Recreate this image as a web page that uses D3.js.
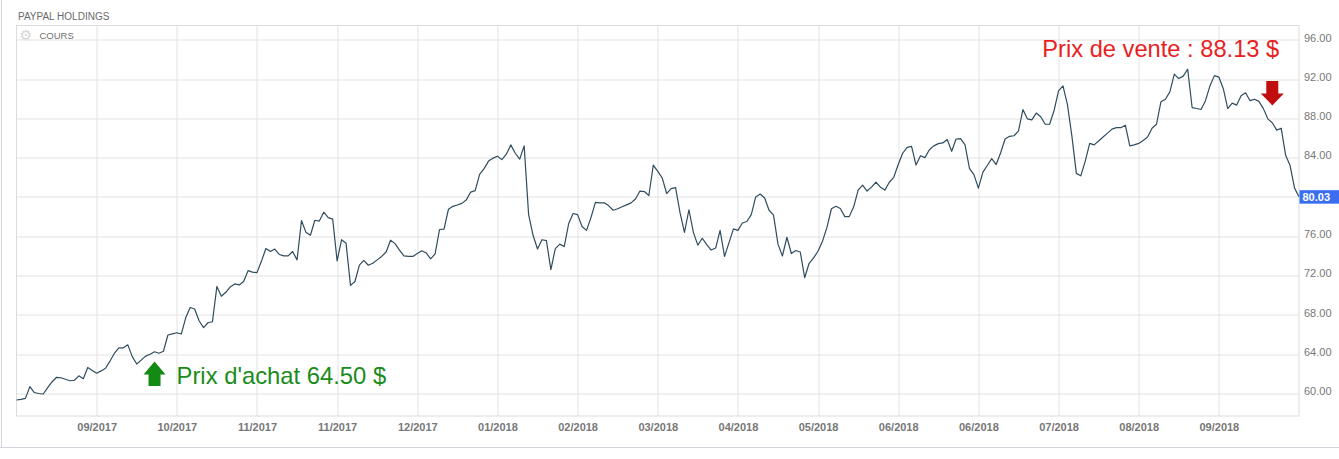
<!DOCTYPE html>
<html>
<head>
<meta charset="utf-8">
<script src="https://cdnjs.cloudflare.com/ajax/libs/d3/7.8.5/d3.min.js"></script>
<style>
 body { margin: 0; background: #fff; font-family: "Liberation Sans", Arial, sans-serif; }
 #chart { width: 1339px; height: 459px; }
</style>
</head>
<body>
<div id="chart"></div>
<script>
// daily closing prices, PayPal Holdings
const prices = [
 59.34, 59.4, 59.5, 60.7, 60.1, 60.0, 59.95, 60.6, 61.2, 61.65,
 61.6, 61.45, 61.3, 61.35, 61.8, 61.5, 62.65, 62.35, 62.06, 62.3,
 62.57, 63.3, 64.1, 64.65, 64.65, 64.95, 63.75, 63.0, 63.4, 63.8,
 64.0, 64.25, 64.1, 64.3, 65.95, 66.07, 66.18, 66.05, 67.7, 68.75,
 68.6, 67.4, 66.7, 67.2, 67.3, 70.9, 69.9, 70.3, 70.85, 71.15,
 71.05, 71.4, 72.5, 72.35, 72.3, 73.45, 74.75, 74.45, 74.7, 74.15,
 74.0, 74.0, 74.45, 73.6, 77.6, 76.4, 76.1, 77.63, 77.55, 78.45,
 77.9, 77.75, 73.5, 75.65, 75.3, 71.0, 71.4, 73.06, 73.55, 73.05,
 73.25, 73.6, 73.95, 74.4, 75.6, 75.25, 74.6, 74.0, 73.95, 73.95,
 74.25, 74.52, 74.3, 73.7, 74.2, 76.69, 76.72, 78.75, 79.05, 79.18,
 79.35, 79.7, 80.5, 80.65, 82.3, 82.88, 83.65, 83.95, 84.15, 83.8,
 84.35, 85.3, 84.45, 83.85, 85.2, 78.2, 76.1, 74.7, 75.65, 75.55,
 72.6, 74.75, 75.2, 74.95, 77.3, 78.32, 78.2, 77.0, 76.6, 77.9,
 79.45, 79.4, 79.4, 79.1, 78.65, 78.8, 79.0, 79.2, 79.4, 79.8,
 80.6, 80.55, 80.15, 83.25, 82.6, 81.95, 80.35, 80.85, 80.95, 78.4,
 76.4, 78.7, 76.4, 75.1, 75.8, 75.15, 74.6, 74.8, 76.6, 73.95,
 75.35, 76.75, 76.6, 77.35, 77.5, 78.2, 80.0, 80.3, 79.9, 78.65,
 78.15, 75.2, 74.0, 75.9, 74.25, 74.55, 74.4, 71.8, 73.25, 73.8,
 74.5, 75.5, 76.9, 78.8, 79.05, 78.82, 78.0, 78.0, 79.0, 80.7,
 81.2, 80.6, 81.0, 81.5, 81.0, 80.7, 81.5, 82.0, 83.3, 84.45,
 85.05, 85.15, 83.25, 84.2, 84.0, 84.8, 85.2, 85.43, 85.5, 85.84,
 84.65, 85.9, 85.94, 85.3, 82.9, 82.28, 80.9, 82.5, 83.2, 83.9,
 83.3, 84.5, 85.9, 86.17, 86.23, 86.7, 88.9, 87.95, 87.85, 88.54,
 88.17, 87.4, 87.4, 88.8, 90.8, 91.3, 89.4, 86.2, 82.4, 82.15,
 83.65, 85.45, 85.3, 85.7, 86.1, 86.5, 86.9, 87.05, 87.05, 87.3,
 85.2, 85.3, 85.45, 85.75, 86.1, 87.0, 87.4, 89.7, 89.95, 90.7,
 92.5, 92.05, 92.3, 93.0, 89.1, 89.0, 88.9, 89.8, 91.3, 92.35,
 92.2, 91.02, 89.0, 89.55, 89.35, 90.3, 90.6, 89.8, 89.95, 89.73,
 88.99, 87.95, 87.56, 86.8, 87.0, 84.24, 83.2, 80.9, 80.03
];

// x-axis labels, one every 18 trading days starting at day 18
const dateLabels = [
 "09/2017", "10/2017", "11/2017", "11/2017", "12/2017",
 "01/2018", "02/2018", "03/2018", "04/2018", "05/2018",
 "06/2018", "06/2018", "07/2018", "08/2018", "09/2018"
];
const labelStep = 18;

const yTicks = [60, 64, 68, 72, 76, 80, 84, 88, 92, 96];

const buyPrice = { day: 31, price: 64.5, label: "Prix d'achat 64.50 $" };
const sellPrice = { day: 282, price: 88.13, label: "Prix de vente : 88.13 $" };

(function () {
 const margin = { top: 25.5, right: 40, bottom: 43, left: 16.5 };
 const width = 1339 - margin.left - margin.right;
 const height = 459 - margin.top - margin.bottom;

 const svg = d3
  .select("#chart")
  .append("svg")
  .attr("width", 1339)
  .attr("height", 459);

 // outer frame (left + bottom)
 svg.append("line").attr("x1", 1.5).attr("x2", 1.5).attr("y1", 0).attr("y2", 447.5)
  .attr("stroke", "#d4d4dc");
 svg.append("line").attr("x1", 0).attr("x2", 1339).attr("y1", 447.5).attr("y2", 447.5)
  .attr("stroke", "#d4d4dc");

 svg.append("text")
  .attr("x", 18)
  .attr("y", 20)
  .style("font-size", "10px")
  .style("fill", "#6a6a6a")
  .text("PAYPAL HOLDINGS");

 const g = svg.append("g").attr("transform", `translate(${margin.left},${margin.top})`);

 const xScale = d3.scaleLinear().domain([0, prices.length - 1]).range([0, width]);
 const yScale = d3.scaleLinear().domain([57.71, 97.45]).range([height, 0]);

 const tickDays = dateLabels.map((d, i) => (i + 1) * labelStep);

 // grid
 g.append("g")
  .selectAll("line")
  .data(yTicks)
  .enter()
  .append("line")
  .attr("x1", 0)
  .attr("x2", width)
  .attr("y1", (d) => Math.round(yScale(d)) + 0.5)
  .attr("y2", (d) => Math.round(yScale(d)) + 0.5)
  .attr("stroke", "#e2e2e2");

 g.append("g")
  .selectAll("line")
  .data(tickDays)
  .enter()
  .append("line")
  .attr("x1", (d) => Math.round(xScale(d)) + 0.5)
  .attr("x2", (d) => Math.round(xScale(d)) + 0.5)
  .attr("y1", 0)
  .attr("y2", height)
  .attr("stroke", "#e2e2e2");

 g.append("rect")
  .attr("width", width)
  .attr("height", height)
  .attr("fill", "none")
  .attr("stroke", "#dcdcdc");

 // "COURS" legend with gear
 g.append("text")
  .attr("x", 3)
  .attr("y", 14)
  .style("font-family", "DejaVu Sans")
  .style("font-size", "14px")
  .style("fill", "#d4d4d4")
  .text("\u2699");
 g.append("text")
  .attr("x", 23)
  .attr("y", 13)
  .style("font-size", "9.5px")
  .style("fill", "#707070")
  .text("COURS");

 // axes
 const yAxis = g.append("g")
  .attr("transform", `translate(${width},0)`)
  .call(d3.axisRight(yScale).tickValues(yTicks).tickSize(0).tickPadding(5).tickFormat((d) => d.toFixed(2)));
 yAxis.select(".domain").remove();
 yAxis.selectAll("text")
  .attr("dy", "0.12em")
  .style("font-family", "\"Liberation Sans\", Arial, sans-serif")
  .style("font-size", "11px")
  .style("fill", "#777");

 const xAxis = g.append("g")
  .attr("transform", `translate(0,${height})`)
  .call(d3.axisBottom(xScale).tickValues(tickDays).tickSize(0).tickPadding(7)
   .tickFormat((d, i) => dateLabels[i]));
 xAxis.select(".domain").remove();
 xAxis.selectAll("text")
  .style("font-family", "\"Liberation Sans\", Arial, sans-serif")
  .style("font-size", "11px")
  .style("font-weight", "bold")
  .style("fill", "#777");

 // price line
 const line = d3.line()
  .x((d, i) => xScale(i))
  .y((d) => yScale(d));

 g.append("path")
  .datum(prices)
  .attr("d", line)
  .attr("fill", "none")
  .attr("stroke", "#2f4d5e")
  .attr("stroke-width", 1.2)
  .attr("stroke-linejoin", "round");

 // last value badge
 const last = prices[prices.length - 1];
 g.append("rect")
  .attr("x", width + 0.5)
  .attr("y", yScale(last) - 6.5)
  .attr("width", 40)
  .attr("height", 13.5)
  .attr("fill", "#3a6ef0");
 g.append("text")
  .attr("x", width + 3.5)
  .attr("y", yScale(last) + 4.2)
  .style("font-size", "11px")
  .style("font-weight", "bold")
  .style("fill", "#fff")
  .text(last.toFixed(2));

 // buy annotation
 const bx = xScale(buyPrice.day);
 const by = yScale(63.25);
 g.append("path")
  .attr("d", `M${bx},${by} L${bx + 11},${by + 13} L${bx + 6},${by + 13} L${bx + 6},${by + 24.5} L${bx - 6},${by + 24.5} L${bx - 6},${by + 13} L${bx - 11},${by + 13} Z`)
  .attr("fill", "#138a13");
 g.append("text")
  .attr("x", bx + 22)
  .attr("y", by + 22.5)
  .style("font-size", "23.8px")
  .style("fill", "#1a8c1a")
  .text(buyPrice.label);

 // sell annotation
 const sx = xScale(sellPrice.day);
 const sy = yScale(89.32);
 g.append("path")
  .attr("d", `M${sx},${sy} L${sx + 11.5},${sy - 12} L${sx + 6},${sy - 12} L${sx + 6},${sy - 24.5} L${sx - 6},${sy - 24.5} L${sx - 6},${sy - 12} L${sx - 11.5},${sy - 12} Z`)
  .attr("fill", "#c00d0d");
 g.append("text")
  .attr("x", sx + 7)
  .attr("y", sy - 48)
  .attr("text-anchor", "end")
  .style("font-size", "23.7px")
  .style("fill", "#e8211f")
  .text(sellPrice.label);
})();
</script>
</body>
</html>
